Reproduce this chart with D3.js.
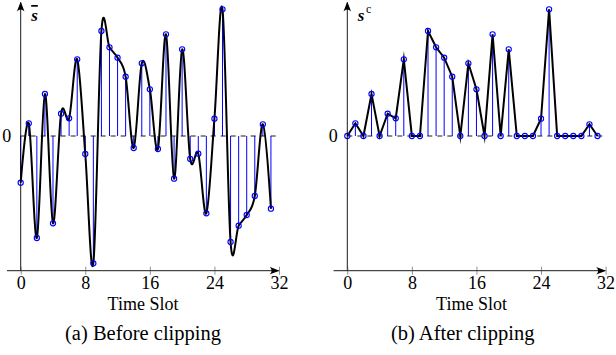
<!DOCTYPE html>
<html>
<head>
<meta charset="utf-8">
<script src="https://cdn.jsdelivr.net/npm/d3@7"></script>
<style>
  body { margin: 0; background: #fff; }
  svg { display: block; }
  text { font-family: "Liberation Serif", "DejaVu Serif", serif; }
</style>
</head>
<body>
<div id="chart"></div>
<script>
// time slots 0..31
const slots = d3.range(0, 32);
const xTicks = [0, 8, 16, 24, 32];

// signal before clipping
const before = [-4.67, 1.27, -10.2, 4.2, -8.73, 2.23, 1.77, 7.67, -1.8, -12.73,
  10.5, 8.87, 7.83, 5.93, -1.2, 7.27, 4.67, -1.3, 10.17, -4.27,
  8.67, -2.3, -1.77, -7.73, 1.73, 12.67, -10.6, -8.97, -7.9, -6.0,
  1.17, -7.27];

// signal after clipping
const after = [0, 1.27, 0, 4.2, 0, 2.23, 1.77, 7.67, 0, 0,
  10.5, 8.87, 7.83, 5.93, 0, 7.27, 4.67, 0, 10.17, 0,
  8.67, 0, 0, 0, 1.73, 12.67, 0, 0, 0, 0,
  1.17, 0];

const panels = [
  { left: 20.7, values: before, curve: d3.curveCardinal.tension(0), label: 'bar', title: 'Time Slot', tx: 143, caption: '(a) Before clipping', cx: 143 },
  { left: 347.3, values: after, curve: d3.curveLinear, label: 'c', title: 'Time Slot', tx: 471.5, caption: '(b) After clipping', cx: 462.7 }
];

const width = 616, height = 355;
const svg = d3.select('#chart').append('svg')
  .attr('width', width)
  .attr('height', height);

const defs = svg.append('defs');
defs.append('marker')
  .attr('id', 'arrow')
  .attr('viewBox', '0 0 10 10')
  .attr('refX', 9).attr('refY', 5)
  .attr('markerWidth', 10).attr('markerHeight', 10)
  .attr('markerUnits', 'userSpaceOnUse')
  .attr('orient', 'auto')
  .append('path')
  .attr('d', 'M0,1.2 Q4,5 0,8.8 L10,5 Z')
  .attr('fill', '#000');

const blue = '#0000ff';

panels.forEach(p => {
  const x = d3.scaleLinear().domain([0, 32]).range([p.left, p.left + 258.3]);
  const y = d3.scaleLinear().domain([-13.47, 13.6]).range([270.7, 0]);

  const g = svg.append('g');

  // zero line
  g.append('line')
    .attr('x1', x(0)).attr('x2', x(32))
    .attr('y1', y(0)).attr('y2', y(0))
    .attr('stroke', '#000')
    .attr('stroke-width', 0.9)
    .attr('stroke-dasharray', '5,5');

  // stems
  g.selectAll('.stem')
    .data(slots)
    .enter()
    .append('line')
    .attr('class', 'stem')
    .attr('x1', d => x(d)).attr('x2', d => x(d))
    .attr('y1', y(0)).attr('y2', d => y(p.values[d]))
    .attr('stroke', blue)
    .attr('stroke-width', 1);

  // signal
  const line = d3.line()
    .x(d => x(d))
    .y(d => y(p.values[d]))
    .curve(p.curve);
  g.append('path')
    .datum(slots)
    .attr('d', line)
    .attr('fill', 'none')
    .attr('stroke', '#000')
    .attr('stroke-width', 2)
    .attr('stroke-miterlimit', 10);

  // markers
  g.selectAll('.pt')
    .data(slots)
    .enter()
    .append('circle')
    .attr('class', 'pt')
    .attr('cx', d => x(d))
    .attr('cy', d => y(p.values[d]))
    .attr('r', 2.6)
    .attr('fill', 'none')
    .attr('stroke', blue)
    .attr('stroke-width', 1.1);

  // axes
  g.append('line')
    .attr('x1', x(-1.7)).attr('x2', x(31.95))
    .attr('y1', y(-13.47)).attr('y2', y(-13.47))
    .attr('stroke', '#000').attr('stroke-width', 0.9)
    .attr('marker-end', 'url(#arrow)');
  g.append('line')
    .attr('x1', x(0)).attr('x2', x(0))
    .attr('y1', y(-13.47)).attr('y2', 2.5)
    .attr('stroke', '#000').attr('stroke-width', 0.9)
    .attr('marker-end', 'url(#arrow)');

  const ax = g.append('g')
    .attr('transform', `translate(0,${y(-13.47)})`)
    .call(d3.axisBottom(x).tickValues(xTicks).tickSize(4).tickFormat(d3.format('d')));
  ax.select('.domain').remove();
  ax.selectAll('.tick line').attr('y1', -4).attr('y2', 4).attr('stroke-width', 0.6).attr('stroke', '#444');
  ax.selectAll('.tick text')
    .attr('y', 18.6)
    .attr('dy', 0)
    .attr('font-family', '"Liberation Serif", serif')
    .attr('font-size', 18)
    .attr('fill', '#000');

  // y tick label "0"
  g.append('text')
    .attr('x', x(0) - 9.5).attr('y', y(0))
    .attr('dy', '0.35em')
    .attr('text-anchor', 'end')
    .attr('font-size', 18)
    .text('0');

  // axis title
  g.append('text')
    .attr('x', p.tx).attr('y', 309.5)
    .attr('text-anchor', 'middle')
    .attr('font-size', 18)
    .text(p.title);

  // caption
  g.append('text')
    .attr('x', p.cx).attr('y', 339.5)
    .attr('text-anchor', 'middle')
    .attr('font-size', 20.5)
    .text(p.caption);

  // y label
  const yl = g.append('text')
    .attr('x', x(0) + 10.5).attr('y', 21)
    .attr('font-size', 17)
    .attr('font-weight', 'bold')
    .attr('font-style', 'italic');
  if (p.label === 'bar') {
    yl.append('tspan').text('s').style('text-decoration', 'overline');
  } else {
    yl.append('tspan').text('s');
    yl.append('tspan')
      .attr('dy', -8).attr('dx', 1.5)
      .attr('font-size', 12)
      .attr('font-weight', 'normal')
      .attr('font-style', 'normal')
      .text('c');
  }
});
</script>
</body>
</html>
